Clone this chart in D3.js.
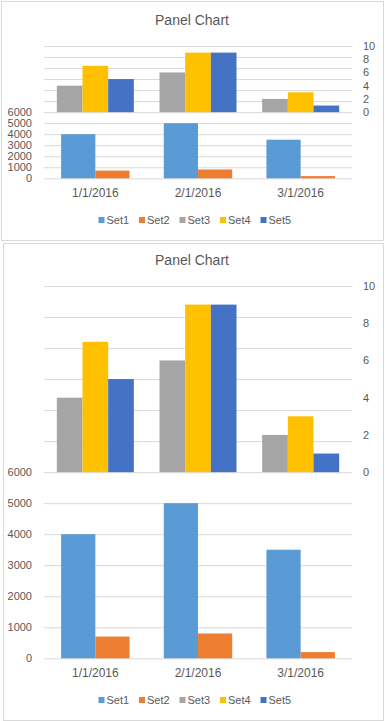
<!DOCTYPE html>
<html>
<head>
<meta charset="utf-8">
<script src="https://cdn.jsdelivr.net/npm/d3@7"></script>
<style>
  body { margin: 0; background: #fff; }
  svg { display: block; font-family: "Liberation Sans", Arial, sans-serif; }
</style>
</head>
<body>
<svg id="chart" width="385" height="721"></svg>
<script>
// data
const categories = ["1/1/2016", "2/1/2016", "3/1/2016"];
const primarySeries = ["Set1", "Set2"];
const secondarySeries = ["Set3", "Set4", "Set5"];
const set1 = [4000, 5000, 3500];
const set2 = [700, 800, 200];
const set3 = [4, 6, 2];
const set4 = [7, 9, 3];
const set5 = [5, 9, 1];
const leftTicks = d3.range(0, 12001, 1000);
const rightTicks = [0, 2, 4, 6, 8, 10];
const allSeries = ["Set1", "Set2", "Set3", "Set4", "Set5"];

const values = { Set1: set1, Set2: set2, Set3: set3, Set4: set4, Set5: set5 };
const colors = { Set1: "#5b9bd5", Set2: "#ed7d31", Set3: "#a5a5a5", Set4: "#ffc000", Set5: "#4472c4" };
const textColor = "#595959";
const gridColor = "#d9d9d9";

const svg = d3.select("#chart");

function drawPanel(p) {
  const g = svg.append("g");
  // panel border
  g.append("rect")
    .attr("x", p.x0 + 0.5).attr("y", p.y0 + 0.5)
    .attr("width", p.x1 - p.x0).attr("height", p.y1 - p.y0)
    .attr("fill", "#fff").attr("stroke", gridColor);

  g.append("text")
    .attr("x", 192).attr("y", p.titleY).attr("dy", "0.35em")
    .attr("text-anchor", "middle")
    .attr("font-size", 14).attr("fill", textColor)
    .text("Panel Chart");

  const left = 44, right = 352;
  const x = d3.scaleBand().domain(categories).range([left, right]);
  const yL = d3.scaleLinear().domain([0, 12000]).range([p.bottom, p.top]);
  const yR = d3.scaleLinear().domain([-10, 10]).range([p.bottom, p.top]);

  // left axis + gridlines
  g.append("g")
    .attr("transform", `translate(${left},0)`)
    .call(d3.axisLeft(yL).tickValues(leftTicks)
      .tickSize(-(right - left)).tickPadding(12)
      .tickFormat(d => d <= 6000 ? d : ""))
    .call(a => a.select(".domain").remove())
    .call(a => a.selectAll("line").attr("stroke", gridColor))
    .call(a => a.selectAll("text").attr("fill", textColor).attr("font-size", 11)
      .attr("font-family", "Liberation Sans, Arial, sans-serif"));

  // right axis
  g.append("g")
    .attr("transform", `translate(${right},0)`)
    .call(d3.axisRight(yR).tickValues(rightTicks).tickSize(0).tickPadding(11))
    .call(a => a.select(".domain").remove())
    .call(a => a.selectAll("text").attr("fill", textColor).attr("font-size", 11)
      .attr("font-family", "Liberation Sans, Arial, sans-serif"));

  // primary bars
  const xP = d3.scaleBand().domain(primarySeries).range([0, x.bandwidth()])
    .paddingInner(0).paddingOuter(0.5);
  g.append("g").selectAll("g")
    .data(primarySeries).join("g")
    .attr("fill", s => colors[s])
    .selectAll("rect")
    .data(s => categories.map((c, i) => ({ s, c, v: values[s][i] })))
    .join("rect")
    .attr("x", d => x(d.c) + xP(d.s))
    .attr("width", xP.bandwidth())
    .attr("y", d => yL(d.v))
    .attr("height", d => yL(0) - yL(d.v));

  // secondary bars
  const xS = d3.scaleBand().domain(secondarySeries).range([0, x.bandwidth()])
    .paddingInner(0).paddingOuter(0.5);
  g.append("g").selectAll("g")
    .data(secondarySeries).join("g")
    .attr("fill", s => colors[s])
    .selectAll("rect")
    .data(s => categories.map((c, i) => ({ s, c, v: values[s][i] })))
    .join("rect")
    .attr("x", d => x(d.c) + xS(d.s))
    .attr("width", xS.bandwidth())
    .attr("y", d => yR(d.v))
    .attr("height", d => yR(0) - yR(d.v));

  // category axis
  g.append("g")
    .attr("transform", `translate(0,${p.bottom})`)
    .call(d3.axisBottom(x).tickSize(0).tickPadding(10))
    .call(a => a.select(".domain").remove())
    .call(a => a.selectAll("text").attr("fill", textColor).attr("font-size", 12)
      .attr("font-family", "Liberation Sans, Arial, sans-serif"));

  // legend
  const lx = d3.scalePoint().domain(allSeries).range([98.5, 260.5]);
  const item = g.append("g").selectAll("g")
    .data(allSeries).join("g")
    .attr("transform", s => `translate(${lx(s)},${p.legendY})`);
  item.append("rect")
    .attr("x", 0).attr("y", -3).attr("width", 6).attr("height", 6)
    .attr("fill", s => colors[s]);
  item.append("text")
    .attr("x", 8).attr("dy", "0.35em")
    .attr("font-size", 11).attr("fill", textColor)
    .text(s => s);
}

drawPanel({ x0: 1, y0: 1, x1: 383, y1: 240, titleY: 20, top: 46, bottom: 178.3, legendY: 220 });
drawPanel({ x0: 3, y0: 243, x1: 383, y1: 720, titleY: 260, top: 286, bottom: 658.3, legendY: 700 });
</script>
</body>
</html>
